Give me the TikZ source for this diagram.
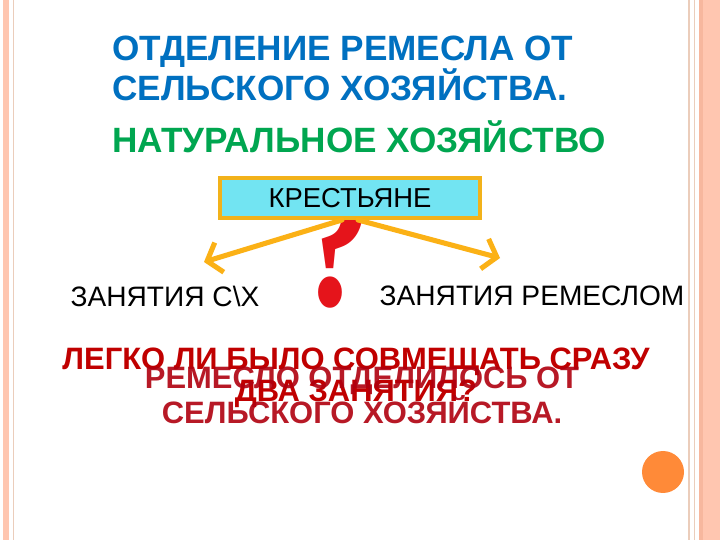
\documentclass[tikz,border=0pt]{standalone}
\usepackage{fontspec}
\setmainfont{Liberation Sans}
\newfontfamily\qmarkfont{Liberation Serif}
\usetikzlibrary{arrows.meta,positioning}
\definecolor{titleblue}{HTML}{0070C0}
\definecolor{natgreen}{HTML}{00A650}
\definecolor{askred}{HTML}{C00000}
\definecolor{craftred}{HTML}{B0000F}
\definecolor{qred}{HTML}{E5141B}
\definecolor{arroworange}{HTML}{FBB116}
\definecolor{boxcyan}{HTML}{72E4F2}
\definecolor{boxborder}{HTML}{F2B21A}
\definecolor{edgesalmon}{HTML}{FFC6B0}
\definecolor{edgedark}{HTML}{F7B79E}
\definecolor{edgeline}{HTML}{EBCDBB}
\definecolor{dotorange}{HTML}{FF8A38}

\begin{document}
\begin{tikzpicture}
[node distance = 1cm,
% STYLES
% heading is used for the blue and green titles
heading/.style={anchor=west, inner sep=0pt, align=left, font=\bfseries\fontsize{25}{28.5}\selectfont},
% peasants is the cyan box in the middle
peasants/.style={rectangle, draw=boxborder, line width=2.8pt, fill=boxcyan, minimum width=6.5cm, minimum height=1cm, inner sep=0pt, font=\fontsize{19.5}{22}\selectfont},
% occupation is used for the two kinds of work
occupation/.style={inner sep=0pt, font=\fontsize{20}{24}\selectfont},
% question is used for the red overlapping text
question/.style={inner sep=0pt, align=center, font=\bfseries\fontsize{22}{22.8}\selectfont},
% branch is used for the two orange arrows
branch/.style={-{Straight Barb[length=9pt,width=22pt]}, line width=3.6pt, arroworange, line cap=round}]

\useasboundingbox (0,0) rectangle (18,13.5);
\fill[white] (0,0) rectangle (18,13.5);

% slide borders
\fill[edgesalmon] (0.075,0) rectangle (0.225,13.5);
\draw[edgeline, line width=0.6pt] (0.33,0) -- (0.33,13.5);
\draw[edgeline, line width=0.8pt] (17.225,0) -- (17.225,13.5);
\draw[edgeline, line width=0.6pt] (17.37,0) -- (17.37,13.5);
\fill[edgesalmon] (17.475,0) rectangle (18,13.5);
\fill[edgedark] (17.475,0) rectangle (17.58,13.5);

% titles
\node [heading, text=titleblue] (title) at (2.8,11.8) {ОТДЕЛЕНИЕ РЕМЕСЛА ОТ\\СЕЛЬСКОГО ХОЗЯЙСТВА.};
\node [heading, text=natgreen, below=0.5 of title.south west, anchor=north west] (natural) {НАТУРАЛЬНОЕ ХОЗЯЙСТВО};

% question mark behind the box
\node [inner sep=0pt, text=qred, xscale=0.95, yscale=1.25, font=\qmarkfont\bfseries\fontsize{110}{110}\selectfont] (qmark) at (8.375,7.44) {?};

% peasants
\node [peasants] (kres) at (8.75,8.55) {КРЕСТЬЯНЕ};

% occupations
\node [occupation] (farming) at (4.125,6.1) {ЗАНЯТИЯ С\textbackslash Х};
\node [occupation] (craft) at (13.3,6.1) {ЗАНЯТИЯ РЕМЕСЛОМ};

\coordinate (lefttip) at (5.1,6.95);
\coordinate (righttip) at (12.5,7.05);

% Draw the links
\draw[branch] ([xshift=-0.2cm]kres.south) -- (lefttip);
\draw[branch] ([xshift=0.2cm]kres.south) -- (righttip);

% red text, two layers
\node [question, text=askred] (ask) at (8.9,4.05) {ЛЕГКО ЛИ БЫЛО СОВМЕЩАТЬ СРАЗУ\\ДВА ЗАНЯТИЯ?};
\node [question, text=craftred, opacity=0.9] (separated) at (9.05,3.62) {РЕМЕСЛО ОТДЕЛИЛОСЬ ОТ\\СЕЛЬСКОГО ХОЗЯЙСТВА.};

% orange dot
\fill[dotorange] (16.575,1.7) circle (0.525);

\end{tikzpicture}
\end{document}
